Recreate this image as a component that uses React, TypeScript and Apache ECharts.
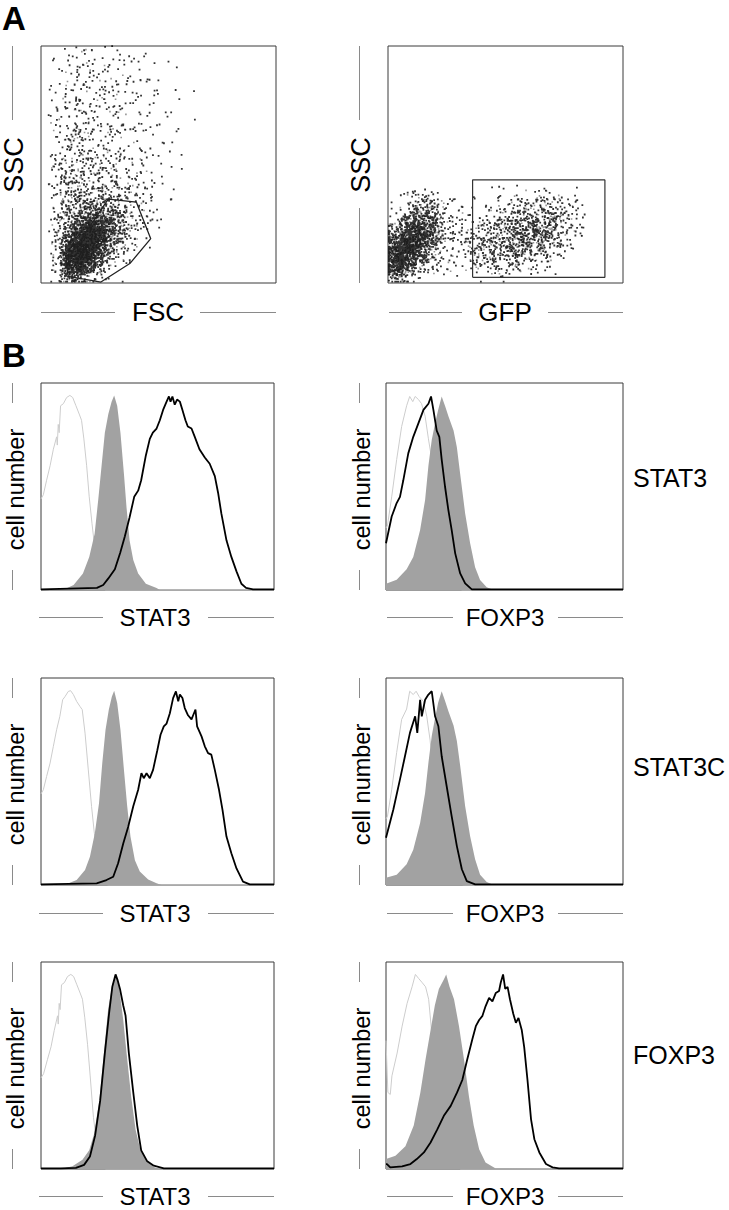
import React, { useEffect, useRef } from "react";
import * as echarts from "echarts";

// ---------------- Panel A: dot plots ----------------
// events per 5x5 cell (axis units 0-100); rows listed from top band to bottom band
// FSC (x) vs SSC (y): 20 rows (y 95-100 ... y 0-5), 14 columns (x 0-5 ... x 65-70)
const fscSscRows: number[][] = [
  [0, 1, 3, 4, 4, 3, 3, 2, 1, 1, 1, 0, 0, 0],
  [0, 1, 4, 5, 5, 4, 3, 2, 2, 1, 1, 0, 0, 0],
  [0, 2, 5, 6, 5, 4, 4, 3, 2, 1, 1, 1, 0, 0],
  [0, 2, 6, 6, 5, 5, 4, 3, 2, 2, 1, 1, 0, 0],
  [0, 3, 7, 7, 6, 5, 4, 3, 2, 2, 1, 1, 1, 0],
  [0, 3, 8, 7, 6, 5, 4, 3, 3, 2, 1, 1, 0, 0],
  [0, 4, 9, 8, 7, 6, 5, 4, 3, 2, 1, 1, 1, 0],
  [0, 5, 10, 9, 7, 6, 5, 4, 3, 2, 1, 1, 0, 0],
  [0, 6, 12, 10, 8, 7, 6, 4, 3, 2, 1, 1, 0, 0],
  [0, 7, 13, 11, 10, 8, 6, 5, 4, 2, 2, 1, 0, 0],
  [0, 8, 15, 13, 12, 10, 8, 6, 4, 2, 1, 1, 0, 0],
  [0, 9, 17, 16, 15, 13, 10, 7, 5, 3, 1, 0, 0, 0],
  [0, 10, 19, 20, 20, 18, 14, 10, 6, 3, 1, 0, 0, 0],
  [0, 11, 22, 28, 34, 30, 20, 13, 7, 3, 1, 0, 0, 0],
  [0, 12, 28, 55, 95, 75, 36, 16, 7, 3, 1, 0, 0, 0],
  [0, 13, 45, 150, 200, 110, 45, 14, 5, 2, 0, 0, 0, 0],
  [0, 14, 110, 270, 220, 85, 28, 8, 3, 1, 0, 0, 0, 0],
  [0, 13, 210, 310, 160, 45, 12, 4, 1, 0, 0, 0, 0, 0],
  [0, 10, 200, 190, 60, 14, 3, 1, 0, 0, 0, 0, 0, 0],
  [0, 5, 55, 40, 12, 3, 1, 0, 0, 0, 0, 0, 0, 0],
];
// GFP (x) vs SSC (y): 8 rows (y 35-40 ... y 0-5), 20 columns (x 0-5 ... x 95-100)
const gfpSscRows: number[][] = [
  [0, 2, 6, 7, 3, 1, 0, 0, 1, 2, 3, 4, 5, 5, 4, 3, 1, 0, 0, 0],
  [2, 6, 22, 28, 12, 3, 2, 3, 4, 6, 9, 12, 15, 15, 12, 7, 2, 0, 0, 0],
  [6, 24, 60, 60, 22, 6, 5, 7, 10, 15, 21, 27, 33, 33, 22, 12, 3, 0, 0, 0],
  [24, 75, 130, 85, 25, 7, 7, 11, 18, 24, 33, 42, 48, 39, 24, 10, 2, 0, 0, 0],
  [65, 170, 150, 60, 15, 7, 9, 14, 24, 30, 36, 42, 42, 30, 15, 6, 1, 0, 0, 0],
  [130, 190, 95, 30, 9, 7, 9, 16, 24, 27, 30, 30, 24, 16, 7, 3, 0, 0, 0, 0],
  [150, 115, 35, 10, 5, 5, 5, 10, 15, 15, 13, 12, 7, 4, 1, 0, 0, 0, 0, 0],
  [40, 18, 6, 1, 0, 0, 0, 1, 3, 2, 1, 0, 0, 0, 0, 0, 0, 0, 0, 0],
];
const fscGate: number[][] = [
  [28.6, 35.4], [40.6, 34.1], [46.7, 18.7], [37.8, 8.2], [25.5, 0.4], [11.6, 2.8], [10.6, 8.9], [28.6, 35.4],
];
const gfpGate: number[][] = [
  [36, 2.4], [92.3, 2.4], [92.3, 43.5], [36, 43.5], [36, 2.4],
];

// ---------------- Panel B: histograms (x 0-100, y % of box height) ----------------
// row 1 (STAT3), STAT3 staining
const r1StatIso = [[0,44],[1,46],[2.4,53],[3.9,60],[5.3,68],[6.7,74],[7.0,70],[7.4,80],[7.8,76],[8.4,89],[9.6,90],[11,93],[12.4,94],[13.6,93],[15,89],[16.4,85],[17.4,82],[18.4,73],[19.6,60],[20.7,45],[21.9,32],[22.7,24],[23.6,16],[24.6,8],[26,2],[27.5,0],[100,0]];
const r1StatFill = [[0,0],[8,0],[11,0.8],[14,2.4],[18,8],[20.7,16],[23,27],[24.6,44],[26,60],[27.4,76],[28.9,85],[30.3,91],[31.4,94],[32.7,89],[34.1,76],[35.6,56],[36.7,40],[38,24],[39.6,14.5],[41.7,8],[45,3],[49.6,1],[51,0],[100,0]];
const r1StatLine = [[0,0.3],[24,1],[26.7,2.4],[28.9,5.6],[31.7,10],[34,18],[36,26],[38,35],[40,45],[41.7,48],[43,53],[45,65],[46.7,73],[48,76],[49.6,78],[51,82],[52.4,87],[53.9,91],[54.9,93.5],[55.6,91],[56.4,93.5],[57.4,89.5],[58.4,92],[59.6,91],[60.7,87],[62,82],[63,79],[64.6,78],[66,74],[68,68],[70.3,64],[72.4,61],[74.6,55],[76,47],[77.4,37],[79.6,24],[81.7,16],[83.9,9],[86,3],[88,1],[91,0.3],[100,0.3]];
// row 1 (STAT3), FOXP3 staining
const r1FoxIso = [[0,30],[0.6,31],[2.4,45],[4.5,63],[6.6,79],[8.7,89],[10,93.5],[11.3,91],[12.3,93.5],[13.7,92],[15,90],[16.5,84],[17.9,73],[18.9,66],[20,60],[22,45],[24,30],[26,18],[28,8],[30,2],[32,0],[100,0]];
const r1FoxFill = [[0,3],[4.5,5],[8.7,10],[11.5,16],[14.4,29],[16.5,43.5],[17.9,60],[19.3,72.5],[20.7,80.6],[22,87],[23.5,93.5],[25,88.7],[26.3,84],[28.5,77],[29.9,69],[31.3,56],[33.4,37],[35.5,22.6],[37.6,11],[39.7,4.8],[42.5,1.3],[45.4,0],[100,0]];
const r1FoxLine = [[0,22.6],[2.4,35.5],[4.5,42],[5.9,45],[7.3,53],[9.4,66],[11.5,74],[13.7,80.6],[15.8,87],[17.9,90],[19,93.5],[20,87],[21.4,77],[22.5,74],[23.5,63],[24.9,50],[26.3,38.7],[27.7,29],[29.2,17.7],[31.3,8],[33.4,3.2],[36.2,0.3],[100,0.3]];
// row 2 (STAT3C), STAT3 staining
const r2StatIso = [[0,44],[1,46],[2.4,52.4],[3.9,58.9],[5.3,67],[6.7,75],[8.1,81.5],[9.3,89.5],[10.3,91],[11.7,93.5],[12.7,93.9],[13.9,92],[15.3,88.7],[16.7,86.3],[17.7,84.7],[18.9,73.4],[20.3,55.6],[21.7,38],[22.9,25],[24.1,13.7],[26,4],[27.4,0.5],[29,0],[100,0]];
const r2StatFill = [[0,0],[11,0.5],[15.3,2.4],[18.9,7.3],[21,13.7],[23.1,25],[24.9,39.5],[26.3,58.9],[27.7,75],[29.1,84.7],[30.4,91],[31.4,93.9],[32.7,87.9],[34.1,75],[35.6,55.6],[37,38],[38.4,23.4],[40.3,12],[42.4,6.5],[46,2.7],[49.6,0.8],[51.7,0],[100,0]];
const r2StatLine = [[0,0.3],[23.9,0.8],[28.1,2.4],[31,4],[33.1,10.5],[35.3,20],[37.4,28],[39.6,38],[41.7,46],[43.1,54],[44.1,51.6],[45.3,54],[46.7,51.6],[48.1,55.6],[49.9,65],[51.3,72.6],[52.7,76.6],[53.9,78],[55.3,83],[56.7,90.3],[57.9,93.5],[58.9,88.7],[59.6,92],[60.7,90.3],[61.7,85.5],[63.1,82],[64.6,80],[65.3,82],[66.3,84.7],[67,76.6],[68.9,71.8],[70.3,67],[71.7,63.7],[73.1,63],[74.6,55.6],[76.4,46],[77.9,36.3],[79.6,23.4],[81.7,15.3],[83.9,8],[86.7,1.6],[89.6,0.3],[100,0.3]];
// row 2 (STAT3C), FOXP3 staining
const r2FoxIso = [[0,32],[0.6,33],[2.4,46],[4.5,64],[6.6,80],[8.7,85],[10,93.6],[11.5,92],[12.7,93.6],[14,91],[15.8,88.7],[17.2,81.5],[18.6,70],[19.3,62],[21,50],[23,35],[25,22],[27,11],[29,4],[31,0.5],[33,0],[100,0]];
const r2FoxFill = [[0,3.5],[4.5,5],[8.7,10],[11.5,17],[14.4,30],[16.5,44.5],[17.9,59],[19.3,72],[20.7,80.7],[22,88],[23.5,93.6],[25,88.7],[26.3,84],[28.5,77],[29.9,69.6],[31.3,57.6],[33.4,38],[35.5,23.6],[37.6,12.4],[39.7,5],[42.5,1.4],[45.4,0],[100,0]];
const r2FoxLine = [[0,22.8],[3.1,36.5],[5.9,51],[8,62.2],[10.1,73.5],[12.3,81.5],[13.2,73.5],[14.4,89.5],[15.1,81.5],[16.5,89.5],[17.9,92],[19.3,93.6],[20.7,81.5],[22.1,76.7],[23.5,62.2],[25.6,47.7],[27.7,33.3],[29.9,18.8],[32,7.6],[34.1,1.9],[37.6,0.3],[100,0.3]];
// row 3 (FOXP3), STAT3 staining
const r3StatIso = [[0,44],[1.1,46],[2.8,53],[4.3,59],[5.7,67],[7.1,74],[7.4,70],[7.8,80],[8.2,77],[8.8,89],[10,90],[11.4,93],[12.8,94],[14,93],[15.4,89],[16.8,85],[17.8,82],[18.8,73],[20,60],[21.1,45],[22.5,25],[23.6,15],[24.8,7],[26.2,2],[27.6,0],[100,0]];
const r3StatFill = [[0,0],[8.5,0],[13.5,1.3],[17.8,4.5],[20.7,9],[22.8,17],[25,33],[27,56],[28.8,77],[30.6,89],[32,94],[33.5,88],[35.3,72],[37,53],[38.7,35],[40.6,19],[42.7,9],[45.6,3.7],[48.4,1],[51,0],[100,0]];
const r3StatLine = [[0,0.3],[8.5,0.3],[15,0.5],[18.5,2],[21,6],[23.2,16],[25.4,33],[27.4,56],[29.2,75],[30.6,88],[32,94],[32.8,91.5],[33.9,87],[35.3,79],[36.3,74],[37.7,56],[39.6,37],[41.3,21],[43,9],[45.6,3.7],[48.4,1.6],[52.7,0.3],[100,0.3]];
// row 3 (FOXP3), FOXP3 staining
const r3FoxIso = [[0,62],[0.8,37],[1.8,36],[2.5,45],[4.7,56],[6.8,69],[8.9,80],[11,88],[12.4,94],[13.8,92],[15.3,90],[16.7,88],[18,82],[18.8,72],[19.8,59],[21.5,45],[23.5,30],[25.5,18],[27.5,8],[29.5,2],[31.5,0],[100,0]];
const r3FoxFill = [[0,4.8],[4,6.4],[8.2,11],[11.7,21],[14.5,37],[16.7,53],[18.8,67],[20.6,79],[22.3,87],[24.4,91.5],[25.4,94],[26.8,88],[28.7,82],[30.8,69],[32.9,53],[35,35],[37,21],[39.3,9.6],[42,3.2],[46.3,0.3],[100,0]];
const r3FoxLine = [[0,2.4],[0.4,2.4],[1.8,0.8],[6.8,1.3],[10.3,2.4],[13,4.8],[16,8],[18.8,12.8],[21.6,19],[24.4,25.7],[27.3,30.5],[30,37],[32.2,43],[34.3,53],[36.4,62.6],[37.9,69],[39.3,72],[40.7,74],[42,78.6],[43.5,82.7],[44.9,81],[46.3,85],[47.7,86],[48.4,90],[49.4,94],[50.3,87],[51.3,88],[52.3,82],[53.7,75],[54.8,70.6],[55.9,73],[57.3,67],[58.3,59],[59.7,43],[61.2,24],[62.6,14.4],[64.7,8],[67.5,2.4],[70.3,0.8],[73,0.3],[100,0.3]];

const rowLabels = ["STAT3", "STAT3C", "FOXP3"];
const histXLabels = ["STAT3", "FOXP3"];
const histPanels = [
  [r1StatIso, r1StatFill, r1StatLine], [r1FoxIso, r1FoxFill, r1FoxLine],
  [r2StatIso, r2StatFill, r2StatLine], [r2FoxIso, r2FoxFill, r2FoxLine],
  [r3StatIso, r3StatFill, r3StatLine], [r3FoxIso, r3FoxFill, r3FoxLine],
];

const FONT = '"Liberation Sans", Arial, Helvetica, sans-serif';

// place each cell's event count around its cell with a fixed (deterministic) hash scatter
function cellsToDots(rows: number[][]) {
  const black: number[][] = [];
  const grey: number[][] = [];
  const nRows = rows.length;
  const hash = (n: number) => {
    const s = Math.sin(n * 12.9898 + 78.233) * 43758.5453;
    return s - Math.floor(s);
  };
  rows.forEach((row, r) => {
    const j = nRows - 1 - r;
    row.forEach((n, i) => {
      for (let k = 0; k < n; k++) {
        const seed = (j * 40 + i) * 1000 + k;
        const u = (hash(seed * 2 + 1) + hash(seed * 3 + 7)) / 2;
        const v = (hash(seed * 2 + 2) + hash(seed * 5 + 11)) / 2;
        const x = Math.max(0.4, (i - 0.5 + u * 2) * 5);
        const y = Math.max(0.6, (j - 0.5 + v * 2) * 5);
        (k % 4 === 3 ? grey : black).push([x, y]);
      }
    });
  });
  return { black, grey };
}

export default function App() {
  const ref = useRef<HTMLDivElement>(null);
  useEffect(() => {
    if (!ref.current) return;
    const chart = echarts.init(ref.current, undefined, { renderer: "svg" });

    const gridsDef = [
      [41, 46, 235, 237], [388, 46, 235, 237],
      [41, 383, 233, 207], [386, 383, 237, 207],
      [41, 678, 233, 207], [386, 678, 237, 207],
      [41, 962, 233, 207], [386, 962, 237, 207],
    ];
    const grid = gridsDef.map((g) => ({
      left: g[0], top: g[1], width: g[2], height: g[3],
      show: true, borderColor: "#3a3a3a", borderWidth: 1, backgroundColor: "transparent",
    }));
    const xAxis = gridsDef.map((_, i) => ({ type: "value", gridIndex: i, min: 0, max: 100, show: false }));
    const yAxis = gridsDef.map((_, i) => ({ type: "value", gridIndex: i, min: 0, max: 100, show: false }));

    const series: any[] = [];
    const dotSeries = (data: number[][], idx: number, color: string, size: number) => ({
      type: "scatter", xAxisIndex: idx, yAxisIndex: idx, data, symbol: "rect", symbolSize: size,
      large: true, largeThreshold: 200, itemStyle: { color }, silent: true, clip: true,
    });
    const a = cellsToDots(fscSscRows);
    const b = cellsToDots(gfpSscRows);
    series.push(dotSeries(a.grey, 0, "#7a7a7a", 1.6), dotSeries(a.black, 0, "#000", 1.8));
    series.push(dotSeries(b.grey, 1, "#7a7a7a", 1.6), dotSeries(b.black, 1, "#000", 1.8));
    series.push({
      type: "line", xAxisIndex: 0, yAxisIndex: 0, data: fscGate, symbol: "none", silent: true,
      lineStyle: { color: "#222", width: 1.3 }, z: 5,
    });
    series.push({
      type: "line", xAxisIndex: 1, yAxisIndex: 1, data: gfpGate, symbol: "none", silent: true,
      lineStyle: { color: "#333", width: 1.2 }, z: 5,
    });

    histPanels.forEach((p, k) => {
      const idx = k + 2;
      series.push({
        type: "line", xAxisIndex: idx, yAxisIndex: idx, data: p[0], symbol: "none", silent: true,
        lineStyle: { color: "#cdcdcd", width: 1 }, z: 2,
      });
      series.push({
        type: "line", xAxisIndex: idx, yAxisIndex: idx, data: p[1], symbol: "none", silent: true,
        lineStyle: { width: 0, color: "#a2a2a2" }, areaStyle: { color: "#a2a2a2", opacity: 1 }, z: 3,
      });
      series.push({
        type: "line", xAxisIndex: idx, yAxisIndex: idx, data: p[2], symbol: "none", silent: true,
        lineStyle: { color: "#000", width: 1.8 }, z: 4,
      });
    });

    const graphic: any[] = [];
    const txt = (text: string, x: number, y: number, size: number, opts: any = {}) => ({
      type: "text", x, y, rotation: opts.rot || 0, silent: true,
      style: {
        text, fill: "#000", fontSize: size, fontFamily: FONT, fontWeight: opts.bold ? "bold" : "normal",
        align: opts.align || "center", verticalAlign: "middle",
      },
    });
    const ln = (x1: number, y1: number, x2: number, y2: number) => ({
      type: "line", silent: true, shape: { x1, y1, x2, y2 }, style: { stroke: "#8a8a8a", lineWidth: 1 },
    });
    graphic.push(txt("A", 2, 18, 33, { bold: true, align: "left" }));
    graphic.push(txt("B", 2, 355, 33, { bold: true, align: "left" }));
    // panel A axis titles
    graphic.push(txt("SSC", 14, 165, 27, { rot: Math.PI / 2 }), ln(12.5, 46, 12.5, 120), ln(12.5, 208, 12.5, 283));
    graphic.push(txt("SSC", 361, 165, 27, { rot: Math.PI / 2 }), ln(359.5, 46, 359.5, 120), ln(359.5, 208, 359.5, 283));
    graphic.push(txt("FSC", 158, 312, 26), ln(41, 312.5, 115, 312.5), ln(200, 312.5, 276, 312.5));
    graphic.push(txt("GFP", 505, 312, 26), ln(389, 312.5, 462, 312.5), ln(548, 312.5, 623, 312.5));
    // panel B
    const rowTops = [383, 678, 962];
    const xLabY = [617, 913, 1196];
    const rowLabY = [478, 767, 1055];
    rowTops.forEach((top, r) => {
      const bot = top + 207;
      const mid = top + 103.5;
      const ly = xLabY[r];
      graphic.push(txt(histXLabels[0], 155, ly, 24), ln(39, ly + 0.5, 103, ly + 0.5), ln(208, ly + 0.5, 274, ly + 0.5));
      graphic.push(txt(histXLabels[1], 505, ly, 24), ln(387, ly + 0.5, 453, ly + 0.5), ln(558, ly + 0.5, 623, ly + 0.5));
      graphic.push(txt("cell number", 16, mid + 3, 23.5, { rot: Math.PI / 2 }), ln(12.5, top, 12.5, top + 20), ln(12.5, bot - 20, 12.5, bot));
      graphic.push(txt("cell number", 362, mid + 3, 23.5, { rot: Math.PI / 2 }), ln(359.5, top, 359.5, top + 20), ln(359.5, bot - 20, 359.5, bot));
      graphic.push(txt(rowLabels[r], 633, rowLabY[r], 25, { align: "left" }));
    });

    chart.setOption({
      animation: false,
      backgroundColor: "#fff",
      grid, xAxis, yAxis, series, graphic,
    });
    return () => chart.dispose();
  }, []);
  return <div ref={ref} style={{ position: "absolute", left: 0, top: 0, width: 729, height: 1210 }} />;
}
